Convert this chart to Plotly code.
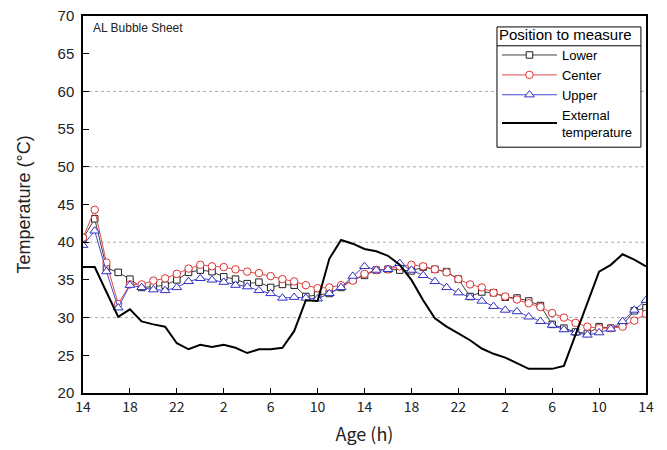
import plotly.graph_objects as go

hours = list(range(49))
tick_vals = list(range(0, 49, 4))
tick_text = ["14", "18", "22", "2", "6", "10", "14", "18", "22", "2", "6", "10", "14"]

lower = [40.5, 43.1, 36.6, 36.0, 35.1, 34.0, 34.1, 34.3, 35.0, 36.0,
         36.3, 36.1, 35.4, 35.1, 34.5, 34.7, 34.0, 34.4, 34.3, 32.8,
         33.0, 33.2, 34.0, 35.0, 35.6, 36.3, 36.4, 36.3, 36.2, 36.7,
         36.4, 36.1, 35.1, 32.8, 33.4, 33.3, 32.7, 32.6, 32.2, 31.6,
         29.1, 28.6, 28.1, 27.9, 28.8, 28.6, 29.0, 30.9, 31.3]

center = [40.6, 44.3, 37.3, 31.8, 34.4, 34.4, 34.9, 35.2, 35.8, 36.5,
          37.0, 36.8, 36.7, 36.4, 36.1, 35.9, 35.5, 35.1, 34.8, 34.3,
          33.9, 34.0, 34.3, 34.9, 35.8, 36.3, 36.4, 36.8, 37.0, 36.8,
          36.4, 36.0, 35.1, 34.4, 34.0, 33.3, 32.8, 32.4, 31.9, 31.4,
          30.6, 30.0, 29.3, 28.8, 28.6, 28.6, 28.8, 29.6, 30.5]

upper = [39.6, 41.5, 36.1, 31.3, 34.3, 34.0, 33.7, 33.6, 34.0, 34.8,
         35.2, 35.0, 34.7, 34.3, 34.1, 33.6, 33.2, 32.6, 32.7, 32.6,
         32.5, 33.2, 34.0, 35.5, 36.8, 36.3, 36.4, 37.2, 36.3, 35.6,
         34.8, 34.0, 33.3, 32.7, 32.2, 31.5, 31.0, 30.8, 30.1, 29.5,
         29.0, 28.4, 28.0, 27.7, 28.0, 28.5, 29.5, 31.0, 32.3]

external = [36.7, 36.7, 33.4, 30.1, 31.1, 29.5, 29.1, 28.8, 26.6, 25.8,
            26.4, 26.1, 26.4, 26.0, 25.3, 25.8, 25.8, 26.0, 28.2, 32.3,
            32.2, 37.8, 40.3, 39.8, 39.1, 38.8, 38.2, 37.0, 35.0, 32.3,
            29.9, 28.8, 27.9, 27.0, 25.9, 25.2, 24.7, 23.9, 23.2, 23.2,
            23.2, 23.6, 27.8, 32.1, 36.1, 37.0, 38.4, 37.7, 36.8]

grid_levels = [30, 40, 50, 60]

fig = go.Figure()
fig.add_trace(go.Scatter(
    x=hours, y=lower, name="Lower", mode="lines+markers",
    line=dict(color="#404040", width=1),
    marker=dict(symbol="square", size=6.5, color="white",
                line=dict(color="#202020", width=1))))
fig.add_trace(go.Scatter(
    x=hours, y=center, name="Center", mode="lines+markers",
    line=dict(color="#e04848", width=1),
    marker=dict(symbol="circle", size=7.5, color="white",
                line=dict(color="#e03030", width=1))))
fig.add_trace(go.Scatter(
    x=hours, y=upper, name="Upper", mode="lines+markers",
    line=dict(color="#4848d0", width=1),
    marker=dict(symbol="triangle-up", size=8.5, color="white",
                line=dict(color="#3030c8", width=1))))
fig.add_trace(go.Scatter(
    x=hours, y=external, name="External<br>temperature", mode="lines",
    line=dict(color="black", width=2)))

for g in grid_levels:
    fig.add_shape(type="line", xref="paper", x0=0, x1=1, yref="y", y0=g, y1=g,
                  line=dict(color="#a8a8a8", width=1, dash="3px,3px"), layer="below")

# legend frame and separator under the legend title
fig.add_shape(type="rect", xref="paper", yref="paper",
              x0=0.7353, x1=0.991, y0=0.652, y1=0.971,
              fillcolor="white", line=dict(color="black", width=1), layer="above")
fig.add_shape(type="line", xref="paper", yref="paper",
              x0=0.7353, x1=0.991, y0=0.921, y1=0.921,
              line=dict(color="black", width=1), layer="above")

fig.add_annotation(text="AL Bubble Sheet", xref="paper", yref="paper",
                   x=0.014, y=0.968, xanchor="left", yanchor="middle",
                   showarrow=False,
                   font=dict(family="Liberation Sans, Arial", size=12, color="#222"))

fig.update_layout(
    width=667, height=450,
    margin=dict(l=83, r=21, t=16, b=57),
    paper_bgcolor="white", plot_bgcolor="white",
    font=dict(family="Liberation Sans, Arial", color="#222"),
    showlegend=True,
    legend=dict(
        x=0.7353, y=0.988, xanchor="left", yanchor="top",
        bgcolor="rgba(0,0,0,0)", borderwidth=0,
        title=dict(text="Position to measure", side="top",
                   font=dict(size=15, family="Liberation Sans, Arial", color="black")),
        font=dict(size=13, family="Liberation Sans, Arial", color="black"),
        itemwidth=55, tracegroupgap=0),
    xaxis=dict(
        range=[0, 48], tickvals=tick_vals, ticktext=tick_text,
        showline=True, mirror=True, linecolor="black", linewidth=1.5,
        ticks="inside", ticklen=5, tickcolor="black",
        showgrid=False, zeroline=False, automargin=False,
        tickfont=dict(size=14, family="Noto Sans CJK KR, Liberation Sans", color="#222"),
        title=dict(text="Age (h)", standoff=14,
                   font=dict(size=18, family="Noto Sans CJK KR, Liberation Sans", color="#222"))),
    yaxis=dict(
        range=[20, 70], tickvals=list(range(20, 71, 5)),
        showline=True, mirror=True, linecolor="black", linewidth=1.5,
        ticks="inside", ticklen=6, tickcolor="black",
        showgrid=False, zeroline=False, ticklabelstandoff=4, automargin=False,
        tickfont=dict(size=15, family="Liberation Sans, Arial", color="#222"),
        title=dict(text="Temperature (°C)", standoff=22,
                   font=dict(size=18, family="Liberation Sans, Arial", color="#222"))),
)

fig.write_html("out.html")
